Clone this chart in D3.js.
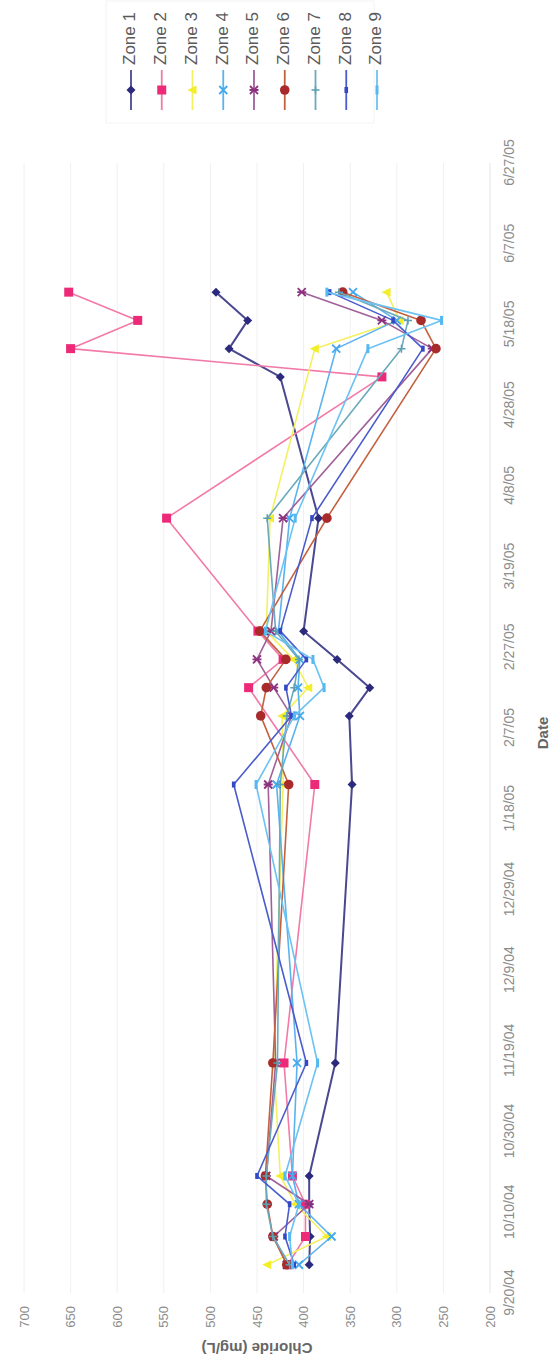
<!DOCTYPE html>
<html><head><meta charset="utf-8">
<script src="https://cdn.jsdelivr.net/npm/d3@7"></script>
<style>html,body{margin:0;padding:0;background:#fff;}svg{display:block;}</style>
</head><body>
<script>
// ---- data ----
const dates = ["2004-09-27","2004-10-04","2004-10-12","2004-10-19","2004-11-16","2005-01-24","2005-02-10","2005-02-17","2005-02-24","2005-03-03","2005-03-31","2005-05-05","2005-05-12","2005-05-19","2005-05-26"];
const zoneNames = ["Zone 1","Zone 2","Zone 3","Zone 4","Zone 5","Zone 6","Zone 7","Zone 8","Zone 9"];
const zone1 = [394, 393, 394, 394, 366, 348, 351, 329, 364, 400, 384, 425, 480, 460, 494];
const zone2 = [417, 398, 398, 412, 421, 388, null, 459, 422, 449, 547, 316, 650, 578, 652];
const zone3 = [439, 375, 409, 425, 432, 422, 423, 395, 411, 440, 436, null, 388, 297, 311];
const zone4 = [405, 370, 405, 412, 407, 429, 404, 406, 404, 427, 415, null, 365, 300, 347];
const zone5 = [418, 432, 394, 440, 430, 438, 413, 432, 450, 435, 422, null, 262, 316, 402];
const zone6 = [418, 433, 439, 441, 433, 416, 446, 440, 419, 447, 375, null, 258, 274, 358];
const zone7 = [415, 433, 440, 440, 428, 425, 418, 410, 405, 430, 439, null, 295, 288, 362];
const zone8 = [410, 420, 415, 450, 397, 475, 413, 419, 397, 425, 391, null, 272, 304, 372];
const zone9 = [412, 415, 405, 420, 385, 451, 410, 378, 390, 441, 409, null, 331, 252, 375];
const seriesValues = [zone1, zone2, zone3, zone4, zone5, zone6, zone7, zone8, zone9];
const xTickLabels = ["9/20/04","10/10/04","10/30/04","11/19/04","12/9/04","12/29/04","1/18/05","2/7/05","2/27/05","3/19/05","4/8/05","4/28/05","5/18/05","6/7/05","6/27/05"];
const yTicks = [200,250,300,350,400,450,500,550,600,650,700];

// ---- styles ----
const markerColors = ["#2c2a7c","#ec2a78","#f2ee2a","#44a8ee","#8c3280","#a82a2a","#5a9fb2","#3448c6","#56b8f0"];
const lineColors   = ["#4a4890","#f27aa8","#f4f060","#5ab2ee","#a0609a","#c4603e","#6aaabb","#4a5ccc","#6cc2f2"];
const markerTypes  = ["diamond","square","triangle","x","star","circle","plus","dash","longdash"];

const W = 1363, H = 552; // unrotated chart frame
const svg = d3.select("body").append("svg").attr("width", 552).attr("height", 1363);
const root = svg.append("g").attr("transform", `translate(0,${W}) rotate(-90)`);

const parse = d3.timeParse("%Y-%m-%d");
const tparse = d3.timeParse("%m/%d/%y");
const xDates = dates.map(parse);
const tickDates = xTickLabels.map(tparse);

const x = d3.scaleTime().domain([tickDates[0], tickDates[tickDates.length-1]]).range([70, 1200]);
const y = d3.scaleLinear().domain([200, 700]).range([490, 24]);

// gridlines
root.append("g").selectAll("line").data(yTicks).join("line")
  .attr("x1", 70).attr("x2", 1200)
  .attr("y1", d => y(d)).attr("y2", d => y(d))
  .attr("stroke", d => d === 200 ? "#e4e4e4" : "#f0f0f0").attr("stroke-width", 1);

// y axis labels
const yAxis = d3.axisLeft(y).tickValues(yTicks).tickSize(0).tickPadding(0);
const yg = root.append("g").attr("transform", "translate(57,0)").call(yAxis);
yg.select(".domain").remove();
yg.selectAll("text").attr("font-family", "Arial, 'Liberation Sans', sans-serif").attr("font-size", 13).attr("fill", "#8c8c8c");

// x axis labels
const xAxis = d3.axisBottom(x).tickValues(tickDates).tickFormat((d,i) => xTickLabels[i]).tickSize(0).tickPadding(0);
const xg = root.append("g").attr("transform", "translate(0,504)").call(xAxis);
xg.select(".domain").remove();
xg.selectAll("text").attr("font-family", "Arial, 'Liberation Sans', sans-serif").attr("font-size", 14).attr("fill", "#8c8c8c");

// axis titles
root.append("text").attr("transform", `translate(16,${(y(200)+y(700))/2}) rotate(-90)`)
  .attr("text-anchor", "middle").attr("dominant-baseline", "middle")
  .attr("font-family", "Arial, 'Liberation Sans', sans-serif").attr("font-weight", "bold").attr("font-size", 15).attr("fill", "#666")
  .text("Chloride (mg/L)");
root.append("text").attr("x", 630).attr("y", 544)
  .attr("text-anchor", "middle").attr("dominant-baseline", "middle")
  .attr("font-family", "Arial, 'Liberation Sans', sans-serif").attr("font-weight", "bold").attr("font-size", 15).attr("fill", "#666")
  .text("Date");

// marker drawing
function drawMarker(g, type, color, cx, cy) {
  const s = 4.5;
  if (type === "diamond") g.append("path").attr("d", `M${cx},${cy-s}L${cx+s},${cy}L${cx},${cy+s}L${cx-s},${cy}Z`).attr("fill", color);
  else if (type === "square") g.append("rect").attr("x", cx-4.5).attr("y", cy-4.5).attr("width", 9).attr("height", 9).attr("fill", color);
  else if (type === "triangle") g.append("path").attr("d", `M${cx},${cy-5}L${cx+4.5},${cy+4}L${cx-4.5},${cy+4}Z`).attr("fill", color);
  else if (type === "circle") g.append("circle").attr("cx", cx).attr("cy", cy).attr("r", 4.8).attr("fill", color);
  else if (type === "x") g.append("path").attr("d", `M${cx-4},${cy-4}L${cx+4},${cy+4}M${cx-4},${cy+4}L${cx+4},${cy-4}`).attr("stroke", color).attr("stroke-width", 1.8);
  else if (type === "star") g.append("path").attr("d", `M${cx-4},${cy-4}L${cx+4},${cy+4}M${cx-4},${cy+4}L${cx+4},${cy-4}M${cx},${cy-4.5}L${cx},${cy+4.5}`).attr("stroke", color).attr("stroke-width", 1.8);
  else if (type === "plus") g.append("path").attr("d", `M${cx-4},${cy}L${cx+4},${cy}M${cx},${cy-4}L${cx},${cy+4}`).attr("stroke", color).attr("stroke-width", 1.5);
  else if (type === "dash") g.append("rect").attr("x", cx-3).attr("y", cy-1.8).attr("width", 6).attr("height", 3.6).attr("fill", color);
  else if (type === "longdash") g.append("rect").attr("x", cx-4.5).attr("y", cy-1.5).attr("width", 9).attr("height", 3).attr("fill", color);
}

// series
const line = d3.line().x(d => x(d.date)).y(d => y(d.value));
seriesValues.forEach((vals, si) => {
  const pts = vals.map((v, i) => ({date: xDates[i], value: v})).filter(d => d.value != null);
  const g = root.append("g");
  g.append("path").datum(pts).attr("d", line).attr("fill", "none")
    .attr("stroke", lineColors[si]).attr("stroke-width", si === 0 ? 2 : 1.6).attr("stroke-linejoin", "round");
  pts.forEach(p => drawMarker(g, markerTypes[si], markerColors[si], x(p.date), y(p.value)));
});

// legend
const legend = root.append("g");
legend.append("rect").attr("x", 1240).attr("y", 106).attr("width", 122).attr("height", 268)
  .attr("fill", "none").attr("stroke", "#f4f4f4");
zoneNames.forEach((name, i) => {
  const ly = 131 + i * 30.75;
  const g = legend.append("g");
  g.append("line").attr("x1", 1253).attr("x2", 1293).attr("y1", ly).attr("y2", ly)
    .attr("stroke", lineColors[i]).attr("stroke-width", 1.8);
  drawMarker(g, markerTypes[i], markerColors[i], 1273, ly);
  g.append("text").attr("x", 1298).attr("y", ly).attr("dominant-baseline", "middle")
    .attr("font-family", "Arial, 'Liberation Sans', sans-serif").attr("font-size", 17).attr("fill", "#5a5a5a")
    .text(name);
});
</script>
</body></html>
